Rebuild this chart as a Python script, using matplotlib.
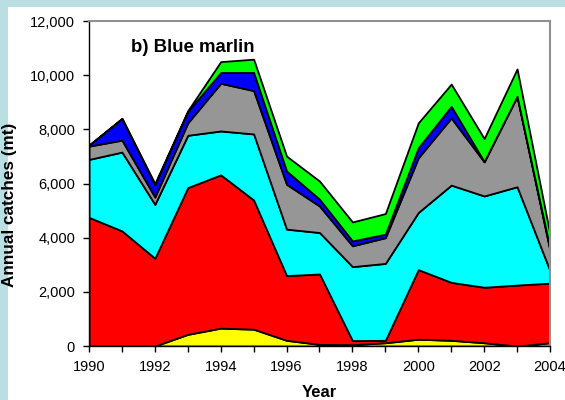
import matplotlib
matplotlib.use("Agg")
import matplotlib.pyplot as plt
from matplotlib.patches import Rectangle
from matplotlib.ticker import FuncFormatter

# Blue marlin annual catches (mt), stacked layers bottom -> top
years = list(range(1990, 2005))
yellow = [0, 0, 0, 430, 660, 620, 210, 60, 50, 120, 250, 210, 120, 0, 120]
red = [4750, 4250, 3240, 5420, 5660, 4770, 2390, 2600, 150, 90, 2570, 2140, 2050, 2250, 2200]
cyan = [2140, 2910, 1990, 1930, 1620, 2440, 1715, 1530, 2730, 2840, 2110, 3590, 3370, 3630, 460]
gray = [490, 440, 270, 460, 1760, 1600, 1655, 980, 770, 950, 2020, 2480, 1260, 3340, 740]
blue = [35, 800, 450, 420, 400, 670, 490, 250, 180, 130, 370, 430, 10, 0, 80]
green = [5, 0, 50, 30, 400, 490, 550, 670, 700, 760, 920, 820, 850, 1010, 530]

layer_colors = ["#ffff00", "#ff0000", "#00ffff", "#969696", "#0000ff", "#00ff00"]

plt.rcParams['font.family'] = ['Liberation Sans', 'DejaVu Sans']

fig = plt.figure(figsize=(5.65, 4.0), dpi=100)
fig.patch.set_facecolor("white")

# light blue frame strips on the left and top
fig.add_artist(Rectangle((0, 0), 8 / 565, 1, transform=fig.transFigure,
                         facecolor="#b9dfe3", edgecolor="none", zorder=0))
fig.add_artist(Rectangle((0, 1 - 7 / 400), 1, 7 / 400, transform=fig.transFigure,
                         facecolor="#b9dfe3", edgecolor="none", zorder=0))

ax = fig.add_axes([89 / 565, 1 - 346 / 400, (550 - 89) / 565, (346 - 21) / 400])
ax.stackplot(years, yellow, red, cyan, gray, blue, green,
             colors=layer_colors, edgecolor="black", linewidth=1.3)

ax.set_xlim(1990, 2004)
ax.set_ylim(0, 12000)
ax.set_xticks(years)
ax.set_xticklabels([str(y) if y % 2 == 0 else "" for y in years])
ax.set_yticks(range(0, 12001, 2000))
ax.yaxis.set_major_formatter(FuncFormatter(lambda v, p: f"{int(v):,}"))
ax.tick_params(direction="out", length=4, width=1, labelsize=10.5, pad=6)

for side in ["left", "bottom"]:
    ax.spines[side].set_color("black")
    ax.spines[side].set_linewidth(1)
for side in ["top", "right"]:
    ax.spines[side].set_color("#909090")
    ax.spines[side].set_linewidth(1.5)

ax.set_xlabel("Year", fontsize=12, fontweight="bold")
ax.xaxis.set_label_coords(0.5, -0.12)
ax.set_ylabel("Annual catches (mt)", fontsize=12.3, fontweight="bold")
ax.yaxis.set_label_coords(-0.156, 0.434)
ax.text(0.091, 0.92, "b) Blue marlin", transform=ax.transAxes,
        fontsize=13.4, fontweight="bold", va="center", ha="left")

fig.savefig("out.png", dpi=100)
